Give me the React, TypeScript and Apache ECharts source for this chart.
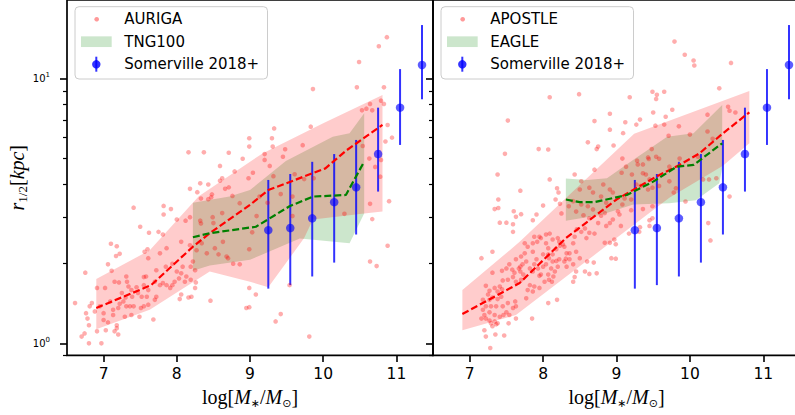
import React, { useEffect, useRef } from "react";
import * as echarts from "echarts";

// ---------------- data ----------------
const xTicks = [7, 8, 9, 10, 11];
const yMajorTicks = [1, 10];
const yMinorTicks = [0.9, 2, 3, 4, 5, 6, 7, 8, 9];

const somervilleX = [9.25, 9.55, 9.85, 10.15, 10.45, 10.75, 11.05, 11.35];
const somervilleY = [2.68, 2.73, 2.97, 3.42, 3.89, 5.2, 7.79, 11.3];
const somervilleLow = [1.61, 1.66, 1.79, 2.02, 2.58, 3.75, 5.63, 8.38];
const somervilleHigh = [4.15, 4.37, 4.86, 5.2, 5.88, 7.79, 10.9, 16.0];

const aurigaPoints = [
  [7.41,3.26],[7.82,3.31],[7.92,3.22],[7.82,3.07],[8.0,2.94],[8.12,2.91],[8.18,3.0],[8.32,2.91],[8.33,2.84],[8.49,3.0],
  [8.5,2.85],[8.62,3.11],[7.5,2.76],[7.62,2.62],[7.75,2.64],[7.81,2.58],[8.06,2.42],[8.18,2.35],[7.1,2.38],[7.18,2.33],
  [7.22,2.18],[7.17,2.14],[7.6,2.27],[7.56,2.22],[7.61,2.1],[7.77,2.19],[7.86,2.29],[7.72,1.89],[7.85,1.95],[7.94,2.0],
  [8.0,1.87],[8.08,1.95],[8.19,1.95],[8.25,1.89],[8.22,2.04],[8.27,2.25],[8.34,2.39],[8.41,2.19],[8.52,2.29],[8.57,2.17],
  [8.63,2.42],[8.7,2.1],[8.77,2.0],[8.86,1.99],[7.06,1.99],[7.11,1.88],[6.75,1.85],[6.91,1.62],[7.02,1.62],[7.15,1.71],
  [7.21,1.7],[7.25,1.55],[7.31,1.79],[7.32,1.71],[7.34,1.64],[7.38,1.59],[7.3,1.49],[7.39,1.5],[7.45,1.63],[7.47,1.55],
  [7.55,1.78],[7.58,1.79],[7.55,1.66],[7.61,1.59],[7.59,1.5],[7.7,1.71],[7.77,1.66],[7.81,1.69],[7.86,1.66],[7.91,1.62],
  [7.94,1.66],[7.97,1.71],[8.03,1.76],[8.06,1.84],[8.11,1.71],[8.13,1.79],[8.19,1.74],[8.25,1.62],[8.26,1.7],[8.06,1.53],
  [8.04,1.47],[8.16,1.49],[8.2,1.5],[8.46,1.45],[8.95,1.36],[8.99,1.62],[6.84,1.42],[6.81,1.38],[6.61,1.42],[6.76,1.3],
  [6.78,1.24],[6.8,1.17],[6.74,1.09],[6.7,1.06],[6.8,1.0],[6.97,1.0],[6.91,1.11],[7.03,1.12],[7.0,1.225],[7.06,1.2],
  [7.13,1.28],[7.18,1.14],[7.15,1.11],[7.2,1.08],[7.18,1.17],[7.29,1.26],[7.31,1.38],[7.36,1.38],[7.41,1.38],[7.38,1.28],
  [7.49,1.26],[7.51,1.36],[7.55,1.38],[7.61,1.4],[7.68,1.23],[7.22,1.41],[7.27,1.44],[7.09,1.44],[6.95,1.38],[7.0,1.3],
  [6.88,1.32],[7.13,1.34],[7.2,1.36],[7.52,1.5],[7.7,1.46],[7.72,1.5],[8.99,2.27],[8.68,2.13],[8.86,3.39],
  [9.08,1.53],[8.99,1.37],[9.42,1.29],[9.35,1.21],[9.81,1.06],[9.54,1.66],[9.58,3.03],[9.09,3.03],[9.03,2.63],[10.29,3.09],
  [10.64,3.37],[10.67,2.95],[10.9,3.45],[10.88,2.34],[10.64,2.04],[10.73,1.96],[9.24,3.4],
  [10.87,14.4],[10.76,13.3],[10.49,11.6],[9.86,9.16],[10.46,9.3],[10.83,9.3],[10.79,8.28],[10.83,8.05],[10.64,8.05],[10.59,7.72],
  [10.53,7.61],[10.67,7.61],[10.88,6.7],[9.83,6.6],[9.33,6.5],[8.99,5.97],[9.3,5.97],[8.99,5.55],[9.31,5.55],[10.94,6.0],
  [10.85,5.8],[10.54,5.58],[9.72,5.62],[9.48,5.42],[9.45,5.08],[9.2,5.2],[9.2,4.94],[9.27,4.69],[9.04,4.42],[9.32,4.29],
  [9.74,4.18],[9.87,4.21],[9.61,4.36],[10.71,4.65],[10.63,5.0],[10.78,4.27],[10.79,4.94],[9.58,3.59],[9.42,3.67],[9.13,3.59],
  [8.16,5.28],[8.37,5.28],[8.71,5.26],[8.9,4.99],[8.59,4.69],[8.79,4.47],[8.98,4.21],[8.62,4.21],[8.59,4.12],[8.71,3.89],
  [8.66,3.84],[8.32,4.03],[8.43,3.99],[8.18,3.84],[8.28,3.73],[8.33,3.53],[8.48,3.66],[8.47,3.57],[8.43,3.51],[8.76,3.61]
];
const aurigaMedian = [[6.9,1.36],[7.65,1.66],[8.22,2.32],[8.45,2.61],[9.0,3.34],[9.25,3.8],[10.03,4.59],[10.31,5.35],[10.81,6.7]];
const aurigaBandUpper = [[6.9,1.75],[7.63,2.25],[8.3,3.6],[9.17,5.23],[10.0,6.8],[10.81,8.7]];
const aurigaBandLower = [[6.9,1.13],[7.63,1.34],[8.45,1.87],[9.0,1.71],[9.25,1.63],[9.74,2.5],[9.86,2.94],[10.56,3.1],[10.81,3.15]];

const tngMedian = [[8.22,2.52],[8.45,2.61],[9.08,2.76],[9.54,3.3],[9.86,3.59],[10.31,3.64],[10.56,4.87]];
const tngBandUpper = [[8.22,3.4],[8.72,3.59],[9.0,3.8],[9.49,4.9],[10.13,6.05],[10.36,6.23],[10.56,7.42]];
const tngBandLower = [[8.22,1.88],[8.45,1.97],[9.0,2.07],[9.68,2.49],[9.9,2.46],[10.36,2.39],[10.56,3.1]];

const apostlePoints = [
  [7.34,3.22],[7.39,3.25],[7.6,3.16],[7.63,3.01],[7.7,3.08],[7.5,2.86],[7.41,2.86],[7.59,2.82],[7.59,2.64],[7.86,2.92],
  [7.91,3.07],[8.0,3.32],[7.16,2.1],[7.31,2.22],[7.31,1.85],[7.44,1.88],[7.5,1.92],[7.54,1.99],[7.58,1.9],[7.61,1.85],
  [7.67,1.92],[7.69,1.87],[7.73,1.82],[7.7,1.74],[7.63,1.71],[7.59,1.78],[7.52,1.74],[7.45,1.73],[7.41,1.64],[7.44,1.6],
  [7.38,1.57],[7.34,1.62],[7.27,1.58],[7.22,1.65],[7.25,1.53],[7.18,1.46],[7.27,1.46],[7.31,1.49],[7.38,1.47],[7.43,1.5],
  [7.45,1.38],[7.36,1.38],[7.29,1.38],[7.22,1.38],[7.18,1.34],[7.27,1.31],[7.34,1.28],[7.41,1.26],[7.46,1.28],[7.5,1.31],
  [7.54,1.28],[7.59,1.36],[7.63,1.38],[7.52,1.42],[7.62,1.44],[7.2,1.28],[7.22,1.24],[7.27,1.22],[7.34,1.21],[7.36,1.18],
  [7.31,1.16],[7.38,1.19],[7.29,1.19],[7.53,1.19],[7.63,1.24],[7.2,1.12],[7.22,1.06],[7.35,1.08],[7.47,1.07],[7.28,0.96],
  [7.16,1.24],[7.75,2.39],[7.79,2.32],[7.88,2.53],[7.95,2.53],[7.97,2.5],[8.04,2.58],[8.09,2.6],[8.13,2.47],[8.04,2.39],
  [8.07,2.29],[8.2,2.5],[8.22,2.42],[8.23,2.34],[8.27,2.37],[8.29,2.32],[8.32,2.19],[8.36,2.19],[8.31,2.09],[8.22,2.08],
  [8.18,2.05],[8.29,2.04],[8.36,2.08],[8.32,1.95],[8.2,1.95],[8.41,1.99],[8.45,2.22],[8.5,2.1],[8.41,2.39],[8.43,2.53],
  [8.46,2.7],[8.52,2.64],[8.57,2.72],[8.63,2.62],[8.7,2.6],[8.59,2.5],[8.75,2.85],[8.86,2.78],[8.91,2.85],[8.95,2.94],
  [8.79,3.04],[8.84,3.11],[8.63,2.97],[8.68,3.21],[8.52,3.35],[8.61,3.3],[8.84,2.4],[8.91,2.4],[8.97,2.47],[8.6,2.04],
  [8.69,2.02],[8.57,1.87],[8.63,1.83],[8.73,1.84],[8.45,1.87],[8.43,1.78],[8.41,1.71],[7.85,1.24],[7.77,1.48],[7.86,1.57],
  [7.82,1.66],[7.79,1.59],[7.88,1.64],[7.95,1.62],[8.02,1.71],[8.08,1.74],[8.12,1.71],[8.14,1.79],[8.07,1.82],[7.97,1.82],
  [7.93,1.92],[8.0,1.95],[8.04,1.99],[8.11,1.92],[8.16,1.87],[8.19,1.46],[8.07,1.42],[7.95,1.8],[7.86,1.87],[7.88,1.99],
  [7.82,1.92],[7.72,1.99],[7.77,2.04],[7.69,1.95],[7.86,2.22],[7.91,2.08],[8.0,2.17],[8.07,2.17],[8.13,2.17],[8.18,2.27],
  [7.86,2.39],[7.92,2.42],[8.08,2.1],[8.13,2.04],[7.63,2.08],[7.7,2.13],[7.75,2.19],[8.35,3.3],[8.45,3.15],[8.55,3.05],[8.25,3.1],
  [8.09,8.53],[8.49,8.76],[7.52,6.96],[7.48,5.21],[7.94,5.43],[8.07,5.41],[7.38,4.35],[7.69,3.78],[7.39,3.5],[8.09,4.17],
  [8.19,3.86],[8.21,3.72],[8.17,3.5],[8.23,3.37],[8.43,4.35],[8.61,5.76],[8.73,5.43],[8.75,5.55],[8.7,4.54],[8.7,6.93],
  [8.91,7.39],[8.91,6.43],[8.96,5.6],[8.52,4.1],[8.41,3.45],[8.5,3.82],[8.63,3.88],[8.79,3.59],[8.91,3.82],[8.68,3.72],
  [8.82,3.99],[8.86,3.4],[8.95,3.72],
  [9.79,13.85],[9.93,12.35],[10.05,11.75],[10.06,11.25],[10.56,11.5],[9.18,8.53],[9.49,8.95],[9.55,8.72],[9.65,8.95],[9.54,8.4],
  [10.4,9.22],[9.76,7.65],[9.67,7.2],[9.5,7.47],[9.32,7.02],[9.27,6.72],[9.12,6.86],[9.09,6.24],[9.53,6.66],[9.65,6.72],
  [9.85,6.62],[9.71,6.1],[10.0,6.16],[10.24,7.33],[10.24,6.33],[10.52,7.85],[10.54,7.58],[10.62,7.47],[9.48,5.43],[9.43,5.05],
  [9.07,4.42],[9.08,5.0],[9.28,4.91],[9.36,4.75],[9.44,4.98],[9.54,5.08],[9.58,4.99],[9.72,4.66],[9.86,5.0],[10.11,5.08],
  [10.31,5.94],[10.18,4.17],[10.26,4.17],[10.36,4.21],[10.54,3.59],[9.94,3.44],[9.78,3.72],[9.81,3.86],[9.58,3.94],[9.49,3.88],
  [9.43,3.82],[9.33,3.94],[9.27,3.99],[9.21,4.35],[9.13,4.66],[9.36,4.4],[9.4,4.35],[9.29,4.75],[9.45,4.17],[9.72,4.1],
  [9.2,3.5],[9.11,3.53],[9.2,3.19],[9.36,3.22],[9.49,3.3],
  [9.08,3.35],[9.02,3.16],[9.04,3.07],[9.49,2.97],[9.45,2.92],[9.45,2.78],[9.06,2.78],[9.17,2.6],[9.31,2.64],[9.32,2.75],
  [8.99,2.37],[8.99,2.09],[10.25,2.85],[10.28,2.45],[8.93,2.1]
];
const apostleMedian = [[6.9,1.29],[7.68,1.69],[8.31,2.5],[9.0,3.5],[9.54,4.27],[9.86,4.73],[10.13,5.23],[10.45,6.23],[10.81,7.48]];
const apostleBandUpper = [[6.9,1.59],[7.68,2.42],[9.24,6.2],[10.81,9.0]];
const apostleBandLower = [[6.9,1.12],[7.63,1.28],[9.0,2.5],[9.72,3.55],[10.45,4.7],[10.81,5.71]];

const eagleMedian = [[8.31,3.5],[8.5,3.42],[8.7,3.42],[9.14,3.64],[9.5,4.09],[9.82,4.66],[10.05,4.73],[10.44,5.71]];
const eagleBandUpper = [[8.31,4.2],[8.6,4.15],[8.87,4.21],[9.23,4.95],[9.69,6.05],[10.05,6.23],[10.44,7.97]];
const eagleBandLower = [[8.31,2.91],[8.78,3.06],[9.23,3.35],[9.72,3.39],[10.08,3.48],[10.4,4.03],[10.44,4.6]];

// ---------------- styles ----------------
const RED_PT = "rgba(255,0,0,0.4)";
const RED_BAND = "rgba(255,0,0,0.2)";
const GREEN_BAND = "rgba(0,128,0,0.2)";
const BLUE = "rgba(0,0,255,0.8)";
const SANS = "DejaVu Sans";
const SERIF = "Liberation Serif";

function bandSeries(xi: number, yi: number, upper: number[][], lower: number[][], color: string) {
  return {
    type: "custom",
    xAxisIndex: xi,
    yAxisIndex: yi,
    silent: true,
    clip: true,
    data: [upper[0]],
    renderItem: (_p: any, api: any) => {
      const pts = upper.map((p) => api.coord(p)).concat(lower.slice().reverse().map((p) => api.coord(p)));
      return { type: "polygon", shape: { points: pts }, style: { fill: color } };
    },
  };
}

function panelSeries(xi: number, yi: number, points: number[][], median: number[][], bu: number[][], bl: number[][],
  gMedian: number[][], gu: number[][], gl: number[][]) {
  return [
    bandSeries(xi, yi, gu, gl, GREEN_BAND),
    bandSeries(xi, yi, bu, bl, RED_BAND),
    {
      type: "scatter", xAxisIndex: xi, yAxisIndex: yi, data: points, symbol: "circle", symbolSize: 4.6,
      itemStyle: { color: RED_PT }, silent: true,
    },
    {
      type: "line", xAxisIndex: xi, yAxisIndex: yi, data: median, symbol: "none", silent: true,
      lineStyle: { color: "#ff0000", width: 2.2, type: [7, 3] },
    },
    {
      type: "line", xAxisIndex: xi, yAxisIndex: yi, data: gMedian, symbol: "none", silent: true,
      lineStyle: { color: "#008000", width: 2.2, type: [7, 3] },
    },
    {
      type: "custom", xAxisIndex: xi, yAxisIndex: yi, silent: true,
      data: somervilleX.map((x, i) => [x, somervilleLow[i], somervilleHigh[i]]),
      encode: { x: 0, y: [1, 2] },
      renderItem: (_p: any, api: any) => {
        const a = api.coord([api.value(0), api.value(1)]);
        const b = api.coord([api.value(0), api.value(2)]);
        return { type: "line", shape: { x1: a[0], y1: a[1], x2: b[0], y2: b[1] }, style: { stroke: BLUE, lineWidth: 2 } };
      },
    },
    {
      type: "scatter", xAxisIndex: xi, yAxisIndex: yi, silent: true,
      data: somervilleX.map((x, i) => [x, somervilleY[i]]), symbolSize: 8.5, itemStyle: { color: BLUE },
    },
  ];
}

function xAxis(gi: number) {
  return {
    type: "value", gridIndex: gi, min: 6.5, max: 11.5,
    axisLine: { show: false, onZero: false },
    splitLine: { show: false },
    axisTick: { show: true, customValues: xTicks, length: 6.5, lineStyle: { color: "#000", width: 1.6 } },
    axisLabel: { show: true, customValues: xTicks, margin: 11, fontSize: 15.5, fontFamily: SANS, color: "#000" },
    name: "{n|log[}{i|M}{s|∗}{n|/}{i|M}{s|⊙}{n|]}",
    nameLocation: "middle",
    nameGap: 29,
    nameTextStyle: {
      rich: {
        n: { fontFamily: SERIF, fontSize: 20, lineHeight: 24, color: "#000" },
        i: { fontFamily: SERIF, fontStyle: "italic", fontSize: 20, lineHeight: 24, color: "#000" },
        s: { fontFamily: SANS, fontSize: 11, lineHeight: 12, verticalAlign: "bottom", color: "#000" },
      },
    },
  };
}

function yAxes(gi: number, withLabels: boolean) {
  const major: any = {
    type: "log", logBase: 10, gridIndex: gi, min: 0.9, max: 19.9, position: "left", offset: 0,
    axisLine: { show: false },
    splitLine: { show: false },
    minorTick: { show: false },
    axisTick: { show: true, customValues: yMajorTicks, length: 7, lineStyle: { color: "#000", width: 1.6 } },
    axisLabel: {
      show: withLabels, customValues: yMajorTicks, margin: 17,
      formatter: (v: number) => `{a|10}{b|${Math.round(Math.log10(v))}}`,
      rich: {
        a: { fontFamily: SANS, fontSize: 10, lineHeight: 14, color: "#000" },
        b: { fontFamily: SANS, fontSize: 7, lineHeight: 6, verticalAlign: "top", color: "#000" },
      },
    },
  };
  if (withLabels) {
    major.name = "{i|r}{s|1/2}{n|[}{i|kpc}{n|]}";
    major.nameLocation = "middle";
    major.nameRotate = 90;
    major.nameGap = 32;
    major.nameTextStyle = {
      rich: {
        n: { fontFamily: SERIF, fontSize: 20, lineHeight: 24, color: "#000" },
        i: { fontFamily: SERIF, fontStyle: "italic", fontSize: 20, lineHeight: 24, color: "#000" },
        s: { fontFamily: SERIF, fontSize: 13, lineHeight: 12, verticalAlign: "bottom", color: "#000" },
      },
    };
  }
  const minor = {
    type: "log", logBase: 10, gridIndex: gi, min: 0.9, max: 19.9, position: "left", offset: 0,
    axisLine: { show: false },
    splitLine: { show: false },
    axisLabel: { show: false },
    axisTick: { show: true, customValues: yMinorTicks, length: 4, lineStyle: { color: "#000", width: 1.2 } },
  };
  return [major, minor];
}

function legend(x0: number, labels: string[]) {
  const tx = x0 + 49.3;
  const rows = [19.3, 41.7, 64.3];
  return {
    type: "group",
    z: 100,
    children: [
      { type: "rect", shape: { x: x0, y: 6.7, width: 192.5, height: 72.3, r: 4 },
        style: { fill: "rgba(255,255,255,0.8)", stroke: "#cccccc", lineWidth: 1 } },
      { type: "circle", shape: { cx: x0 + 21.7, cy: rows[0], r: 2.3 }, style: { fill: RED_PT } },
      { type: "rect", shape: { x: x0 + 6, y: rows[1] - 5.35, width: 30.7, height: 10.7 }, style: { fill: GREEN_BAND } },
      { type: "line", shape: { x1: x0 + 21.3, y1: rows[2] - 7.6, x2: x0 + 21.3, y2: rows[2] + 7.4 },
        style: { stroke: BLUE, lineWidth: 2 } },
      { type: "circle", shape: { cx: x0 + 21.3, cy: rows[2], r: 4.2 }, style: { fill: BLUE } },
      ...labels.map((t, i) => ({
        type: "text", x: tx, y: rows[i],
        style: { text: t, fontFamily: SANS, fontSize: 15, fill: "#000", align: "left", verticalAlign: "middle" },
      })),
    ],
  };
}

function buildOption() {
  const [y0, y1] = yAxes(0, true);
  const [y2, y3] = yAxes(1, false);
  return {
    animation: false,
    backgroundColor: "#ffffff",
    textStyle: { fontFamily: SANS },
    grid: [
      { left: 67, top: 0, width: 366, height: 355.4, show: true, borderColor: "#000", borderWidth: 1.7,
        backgroundColor: "transparent", containLabel: false, outerBoundsMode: "none" },
      { left: 433, top: 0, width: 367, height: 355.4, show: true, borderColor: "#000", borderWidth: 1.7,
        backgroundColor: "transparent", containLabel: false, outerBoundsMode: "none" },
    ],
    xAxis: [xAxis(0), xAxis(1)],
    yAxis: [y0, y1, y2, y3],
    series: [
      ...panelSeries(0, 0, aurigaPoints, aurigaMedian, aurigaBandUpper, aurigaBandLower, tngMedian, tngBandUpper, tngBandLower),
      ...panelSeries(1, 2, apostlePoints, apostleMedian, apostleBandUpper, apostleBandLower, eagleMedian, eagleBandUpper, eagleBandLower),
    ],
    graphic: [
      legend(75, ["AURIGA", "TNG100", "Somerville 2018+"]),
      legend(441, ["APOSTLE", "EAGLE", "Somerville 2018+"]),
    ],
  };
}

export default function App() {
  const ref = useRef<HTMLDivElement>(null);
  useEffect(() => {
    document.body.style.margin = "0";
    const chart = echarts.init(ref.current as HTMLDivElement, null, { renderer: "svg" });
    chart.setOption(buildOption() as any);
    return () => chart.dispose();
  }, []);
  return <div ref={ref} style={{ width: 795, height: 415, background: "#fff" }} />;
}
